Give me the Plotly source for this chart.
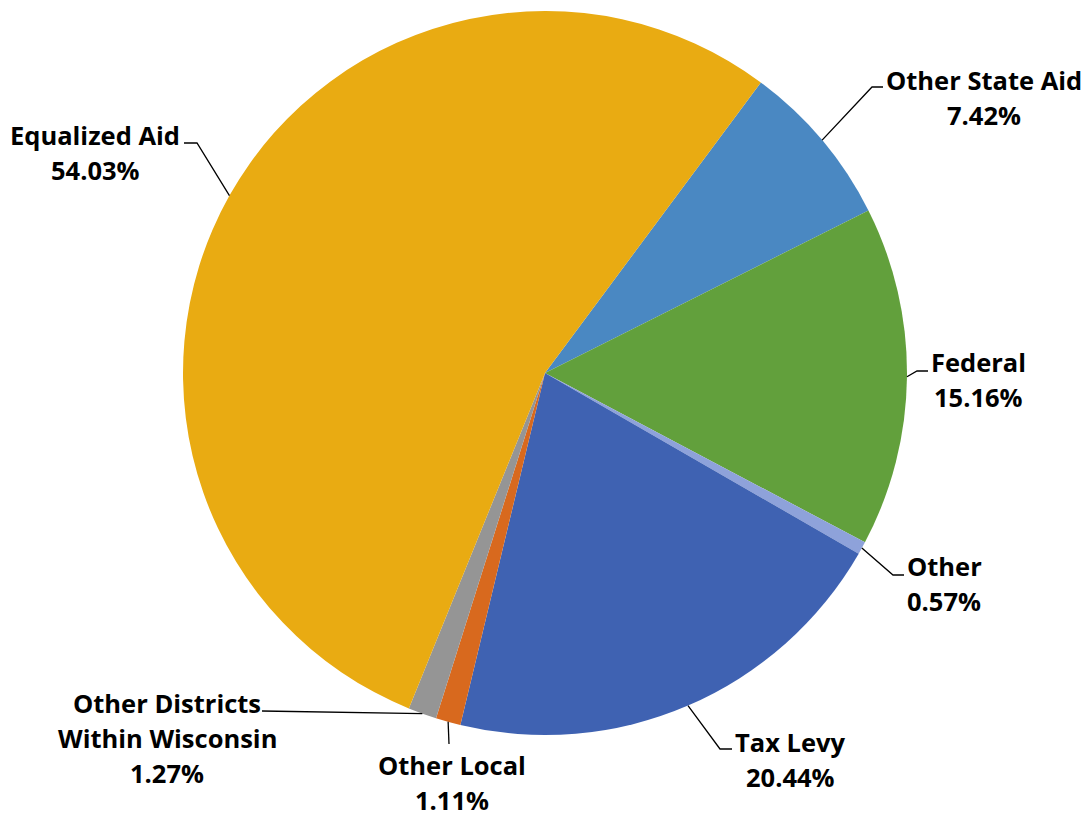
import math
import plotly.graph_objects as go

# ---- data ----
categories = ["Other State Aid", "Federal", "Other", "Tax Levy", "Other Local",
              "Other Districts Within Wisconsin", "Equalized Aid"]
values = [7.42, 15.16, 0.57, 20.44, 1.11, 1.27, 54.03]
colors = ["#4A88C2", "#62A03C", "#8EA2DA", "#3F62B2", "#D8691E", "#959595", "#E9AB12"]
label_lines = [["Other State Aid"], ["Federal"], ["Other"], ["Tax Levy"], ["Other Local"],
               ["Other Districts", "Within Wisconsin"], ["Equalized Aid"]]

# ---- layout constants (pixels) ----
W, H = 1086, 816
CX, CY, R = 545, 373, 362
ROTATION = 36.6
LINE_GAP = 35
FONT = "Open Sans"
FS = 25.5

# label centre of first line, and leader-line path points after the pie edge point
label_pos = [(984, 80), (978, 362), (944, 566), (790, 742), (452, 765), (167, 703), (95, 135)]
leader_pts = [
    [(872, 87), (883, 87)],
    [(917, 371), (928, 371)],
    [(893, 575), (904, 575)],
    [(720, 749), (732, 749)],
    [(449, 744)],
    [(262, 711)],
    [(197, 143), (184, 143)],
]

def px(x):
    return x / W

def py(y):
    return 1 - y / H

fig = go.Figure(go.Pie(
    labels=categories, values=values, sort=False, direction="clockwise",
    rotation=ROTATION, marker=dict(colors=colors, line=dict(width=0)),
    textinfo="none", hoverinfo="label+percent",
    domain=dict(x=[px(CX - R), px(CX + R)], y=[py(CY + R), py(CY - R)]),
))

total = sum(values)
annotations = []
shapes = []
cum = 0.0
for i, v in enumerate(values):
    mid = ROTATION + (cum + v / 2) / total * 360
    cum += v
    a = math.radians(mid)
    ex = CX + R * math.sin(a)
    ey = CY - R * math.cos(a)
    pts = [(ex, ey)] + leader_pts[i]
    path = "M " + " L ".join(f"{px(x)},{py(y)}" for x, y in pts)
    shapes.append(dict(type="path", path=path, xref="paper", yref="paper",
                       line=dict(color="black", width=1.3)))
    lx, ly = label_pos[i]
    lines = label_lines[i] + [f"{v:.2f}%"]
    for k, t in enumerate(lines):
        annotations.append(dict(
            x=px(lx), y=py(ly + k * LINE_GAP), xref="paper", yref="paper",
            text=f"<b>{t}</b>", showarrow=False, xanchor="center", yanchor="middle",
            font=dict(family=FONT, size=FS, color="black"),
        ))

fig.update_layout(
    width=W, height=H, margin=dict(l=0, r=0, t=0, b=0),
    paper_bgcolor="white", plot_bgcolor="white", showlegend=False,
    annotations=annotations, shapes=shapes,
)
fig.write_html("out.html")
